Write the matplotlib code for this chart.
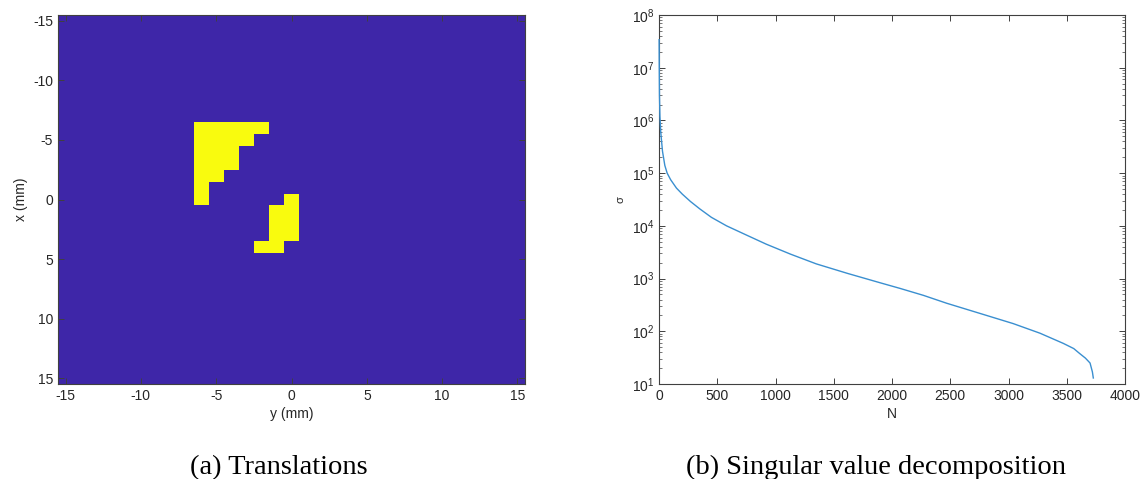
import numpy as np
import matplotlib
matplotlib.use('Agg')
import matplotlib.pyplot as plt
from matplotlib.colors import ListedColormap
from matplotlib.ticker import LogLocator, NullFormatter

plt.rcParams['font.family'] = 'Liberation Sans'
plt.rcParams['mathtext.default'] = 'regular'
plt.rcParams['axes.unicode_minus'] = False

# (a) translations: yellow cells, given as (x, y) in mm
cell_x = [-6, -6, -6, -6, -6,
          -5, -5, -5, -5,
          -4, -4, -4,
          -3, -3, -3,
          -2, -2,
          -1,
          0,
          0,
          1, 1, 2, 2, 3, 3,
          4, 4]
cell_y = [-6, -5, -4, -3, -2,
          -6, -5, -4, -3,
          -6, -5, -4,
          -6, -5, -4,
          -6, -5,
          -6,
          -6,
          0,
          -1, 0, -1, 0, -1, 0,
          -2, -1]
grid_ticks = [-15, -10, -5, 0, 5, 10, 15]

# (b) singular values
sv_n = [1, 2, 4, 8, 15, 30, 50, 70, 100, 150, 200, 270, 350, 450, 580,
        750, 920, 1130, 1350, 1620, 1900, 2070, 2270, 2470, 2750, 3040,
        3270, 3470, 3560, 3610, 3660, 3700, 3720, 3728]
sv_sigma = [3.4e7, 1.2e7, 3e6, 1.2e6, 6e5, 2.6e5, 1.4e5, 1e5, 7.5e4, 5.2e4,
            4e4, 2.9e4, 2.1e4, 1.45e4, 1e4, 6.7e3, 4.5e3, 2.9e3, 1.9e3,
            1.25e3, 830, 650, 480, 340, 220, 140, 92, 59, 47, 38, 31, 25,
            17, 13]

grid = np.zeros((31, 31))
for cx, cy in zip(cell_x, cell_y):
    grid[cx + 15, cy + 15] = 1

fig = plt.figure(figsize=(11.45, 4.79), dpi=100)
ax1 = fig.add_axes([58 / 1145, 95 / 479, 467 / 1145, 369 / 479])
ax2 = fig.add_axes([659 / 1145, 95 / 479, 466 / 1145, 369 / 479])

edge = '#404040'
txt = '#262626'

cmap = ListedColormap(['#3E26A8', '#F9FB0E'])
ax1.imshow(grid, cmap=cmap, extent=[-15.5, 15.5, 15.5, -15.5],
           aspect='auto', interpolation='nearest')
ax1.set_xticks(grid_ticks)
ax1.set_yticks(grid_ticks)
ax1.set_xlabel('y (mm)', fontsize=10, color=txt, labelpad=3)
ax1.set_ylabel('x (mm)', fontsize=10, color=txt)

ax2.plot(sv_n, sv_sigma, color='#3a8fd0', linewidth=1.0, zorder=3,
         clip_on=False)
ax2.set_yscale('log')
ax2.set_xlim(0, 4000)
ax2.set_ylim(1e1, 1e8)
ax2.set_xticks(np.arange(0, 4001, 500))
ax2.set_yticks([10.0 ** k for k in range(1, 9)])
ax2.set_yticklabels(['$10^{%d}$' % k for k in range(1, 9)])
ax2.yaxis.set_minor_locator(LogLocator(base=10, subs=np.arange(2, 10)))
ax2.yaxis.set_minor_formatter(NullFormatter())
ax2.set_xlabel('N', fontsize=10, color=txt, labelpad=3)
ax2.set_ylabel(r'$\sigma$', fontsize=8, color=txt)

for ax in (ax1, ax2):
    for s in ax.spines.values():
        s.set_color(edge)
        s.set_linewidth(0.8)
    ax.tick_params(which='both', direction='in', top=True, right=True,
                   color=edge, labelcolor=txt, labelsize=10)
    ax.tick_params(which='major', length=4, width=0.7)
    ax.tick_params(which='minor', length=2, width=0.5)

fig.text(279 / 1145, 1 - 474 / 479, '(a) Translations', family='Liberation Serif',
         fontsize=20.5, ha='center', va='baseline')
fig.text(876 / 1145, 1 - 474 / 479, '(b) Singular value decomposition',
         family='Liberation Serif', fontsize=20.5, ha='center', va='baseline')

fig.savefig('out.png', dpi=100)
